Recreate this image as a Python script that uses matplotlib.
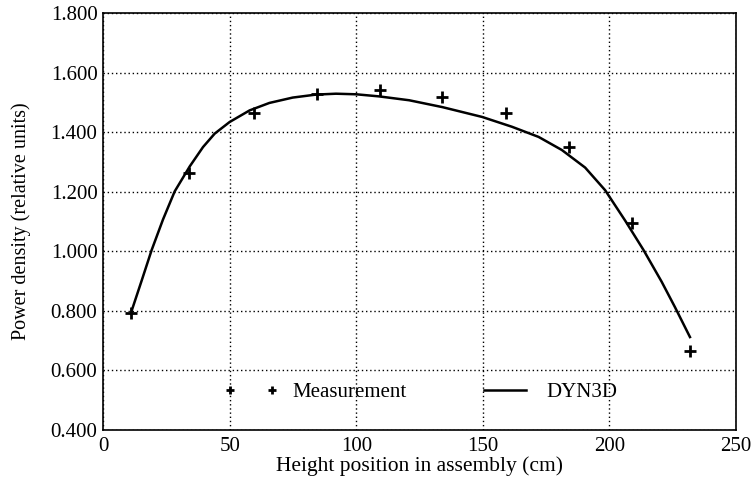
import numpy as np
import matplotlib.pyplot as plt
from matplotlib.ticker import FormatStrFormatter
from matplotlib.legend_handler import HandlerLine2D

plt.rcParams['font.family'] = ['Liberation Serif', 'DejaVu Serif']

# measured points
meas_x = [11, 34, 59.5, 84.5, 109.5, 134, 159, 184, 209, 232]
meas_y = [0.793, 1.263, 1.463, 1.527, 1.54, 1.517, 1.463, 1.35, 1.095, 0.665]

# DYN3D curve
dyn_x = [11.3, 15.2, 19.2, 23.7, 28.3, 34.25, 39.5, 44.1, 50, 57.9, 65.7,
         74.9, 84.1, 92, 100, 109, 120.9, 134, 149.7, 161.5, 172, 181.2,
         190.4, 198.3, 206.2, 213.4, 220.6, 225.9, 231.8]
dyn_y = [0.80, 0.90, 1.004, 1.107, 1.201, 1.285, 1.35, 1.395, 1.434, 1.473,
         1.498, 1.516, 1.526, 1.529, 1.527, 1.52, 1.507, 1.484, 1.451, 1.418,
         1.384, 1.34, 1.281, 1.205, 1.103, 1.005, 0.898, 0.812, 0.712]

xticks = [0, 50, 100, 150, 200, 250]
yticks = [0.4, 0.6, 0.8, 1.0, 1.2, 1.4, 1.6, 1.8]

fig = plt.figure(figsize=(7.52, 4.79), dpi=100)
ax = fig.add_axes([0.137, 0.1023, 0.8418, 0.8706])

ax.plot(dyn_x, dyn_y, color='black', lw=1.8, label='DYN3D', zorder=3)
ax.plot(meas_x, meas_y, ls='none', marker='+', ms=8, mew=2, color='black',
        label='Measurement', zorder=4)

ax.set_xlim(0, 250)
ax.set_ylim(0.4, 1.8)
ax.set_xticks(xticks)
ax.set_yticks(yticks)
ax.yaxis.set_major_formatter(FormatStrFormatter('%.3f'))
ax.tick_params(length=0, labelsize=15)
ax.tick_params(axis='y', pad=4)
ax.tick_params(axis='x', pad=5)
ax.grid(True, color='black', ls=(0, (1, 2)), lw=1)
for s in ax.spines.values():
    s.set_linewidth(1.2)

ax.set_xlabel('Height position in assembly (cm)', fontsize=15.5, labelpad=0)
ax.set_ylabel('Power density (relative units)', fontsize=14.5, labelpad=14)

h, l = ax.get_legend_handles_labels()
leg = ax.legend([h[1], h[0]], [l[1], l[0]], loc='center left', ncol=2,
                frameon=False, numpoints=2, fontsize=15, markerscale=0.75,
                bbox_to_anchor=(0.2006, 0.091), borderaxespad=0, borderpad=0,
                columnspacing=3.7, handlelength=2.0, handletextpad=1.0,
                handler_map={h[1]: HandlerLine2D(marker_pad=0),
                             h[0]: HandlerLine2D(marker_pad=0)})

fig.savefig('out.png', dpi=100)
